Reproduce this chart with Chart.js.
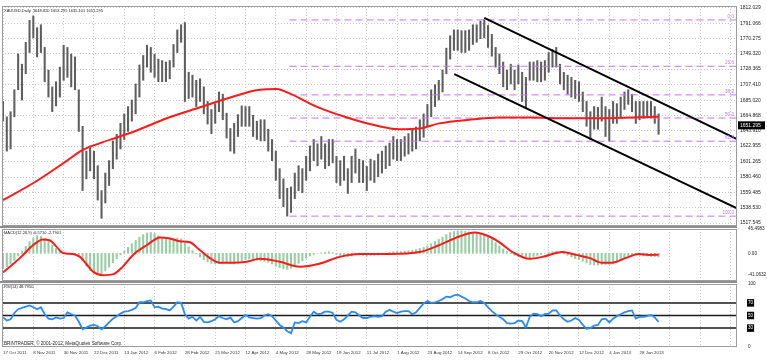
<!DOCTYPE html>
<html>
<head>
<meta charset="utf-8">
<title>XAUUSD Daily</title>
<script src="https://cdn.jsdelivr.net/npm/chart.js@4.4.1/dist/chart.umd.min.js"></script>
<style>
  body{margin:0;background:#fff;}
  #wrap{position:relative;width:767px;height:361px;overflow:hidden;background:#fff;}
  #wrap canvas{position:absolute;left:0;}
</style>
</head>
<body>
<div id="wrap">
  <canvas id="priceChart" width="767" height="232" style="top:0px"></canvas>
  <canvas id="macdChart" width="767" height="70" style="top:220px"></canvas>
  <canvas id="rsiChart" width="767" height="85" style="top:276px"></canvas>
</div>
<script>
// XAUUSD Daily, Okt 2011 - Feb 2013 — ein Balken = 2 Handelstage
const dateLabels = ["17 Oct 2011","8 Nov 2011","30 Nov 2011","22 Dec 2011","13 Jan 2012","6 Feb 2012",
  "28 Feb 2012","21 Mar 2012","12 Apr 2012","4 May 2012","28 May 2012","19 Jun 2012","11 Jul 2012",
  "1 Aug 2012","23 Aug 2012","14 Sep 2012","8 Oct 2012","29 Oct 2012","20 Nov 2012","12 Dec 2012",
  "4 Jan 2013","28 Jan 2013"];
const tickStep = 8; // Balken pro Datumslabel

const highs = [
  1684,1663,1670,1700,1749,1735,1765,1795,1801,1785,
  1789,1758,1727,1704,1711,1731,1761,1758,1749,1745,
  1700,1650,1616,1623,1616,1596,1562,1586,1603,1630,
  1639,1654,1667,1677,1686,1708,1734,1747,1761,1758,
  1749,1742,1740,1738,1740,1762,1782,1789,1792,1724,
  1720,1713,1715,1704,1684,1673,1681,1697,1694,1668,
  1647,1654,1666,1678,1677,1677,1665,1657,1659,1659,
  1646,1632,1616,1592,1578,1565,1567,1586,1596,1592,
  1609,1623,1632,1626,1636,1626,1632,1632,1609,1603,
  1609,1592,1609,1619,1605,1603,1595,1605,1603,1612,
  1616,1623,1627,1636,1632,1632,1636,1640,1646,1649,
  1659,1667,1680,1700,1707,1713,1727,1757,1774,1782,
  1782,1781,1781,1782,1789,1789,1794,1796,1788,1776,
  1758,1749,1738,1727,1735,1727,1734,1724,1717,1738,
  1738,1740,1738,1740,1751,1755,1758,1735,1724,1720,
  1717,1713,1711,1697,1684,1670,1677,1676,1690,1677,
  1673,1684,1681,1690,1697,1700,1694,1684,1684,1684,
  1684,1684,1677,1667];
const lows = [
  1657,1616,1619,1663,1700,1686,1722,1751,1771,1745,
  1751,1711,1690,1670,1678,1690,1713,1717,1704,1700,
  1643,1562,1578,1589,1578,1549,1524,1545,1569,1592,
  1605,1619,1632,1643,1657,1667,1690,1713,1731,1724,
  1717,1711,1711,1711,1715,1731,1751,1765,1684,1688,
  1690,1677,1684,1667,1653,1640,1654,1670,1659,1634,
  1616,1613,1636,1650,1650,1650,1636,1632,1630,1630,
  1616,1603,1576,1551,1540,1527,1532,1551,1562,1559,
  1576,1589,1603,1596,1605,1592,1596,1600,1573,1569,
  1576,1558,1573,1586,1573,1573,1562,1576,1573,1581,
  1586,1592,1596,1605,1603,1603,1609,1612,1616,1619,
  1630,1635,1650,1663,1677,1686,1697,1722,1742,1754,
  1754,1751,1751,1754,1762,1765,1770,1771,1758,1746,
  1731,1722,1704,1700,1708,1700,1708,1684,1674,1713,
  1713,1711,1711,1713,1724,1731,1731,1708,1700,1694,
  1690,1688,1684,1670,1650,1632,1646,1646,1657,1636,
  1630,1654,1654,1663,1673,1680,1670,1654,1659,1661,
  1662,1661,1654,1639];
const lastPrice = 1651.295;

// gleitender Durchschnitt (rot)
const maIdx  = [0, 7.9, 16.9, 20.8, 25.6, 30.8, 36.1, 43.2, 52, 59.1, 67.7, 72.2, 75.6, 82.7, 91.4, 99.3, 104.6, 109.9, 115.1, 123, 131, 139.6, 148.6, 157.3, 166, 173];
const maVals = [1549, 1572, 1603, 1617, 1627, 1636, 1646, 1661, 1676, 1688, 1700, 1701, 1695, 1677, 1661, 1650, 1646, 1647, 1654, 1659, 1662, 1662, 1661, 1661, 1662, 1663];

// Fibonacci
const fibLabels = ["0.0","23.6","38.2","50.0","61.8","100.0"];
const fibPrices = [1795.6, 1732.2, 1693.0, 1661.3, 1629.6, 1527.0];
const fibStart = 75.6;

// Trendkanal
const chanUpper = [[127.0, 1798.5], [193.7, 1632.4]];
const chanLower = [[119.1, 1721.5], [193.7, 1537.8]];

const priceTicks = ["1517.545","1538.530","1559.485","1580.460","1601.265","1622.955","1643.910",
  "1664.868","1685.020","1707.410","1728.365","1749.320","1770.275","1791.066","1812.029"];

// MACD
const macdHist = [
  -28,-25,-20,-13,-5,4,13,22,29,33,
  32,28,22,15,9,4,1,0,-1,-2,
  -6,-14,-24,-32,-38,-40,-38,-33,-26,-18,
  -10,-3,4,11,18,24,30,35,38,39,
  37,33,30,27,26,27,28,27,20,12,
  5,-1,-7,-12,-16,-19,-20,-19,-17,-17,
  -19,-20,-17,-14,-12,-11,-12,-13,-14,-15,
  -17,-20,-24,-27,-29,-30,-28,-24,-19,-14,
  -9,-5,-2,0,1,2,3,1,-2,-4,
  -4,-6,-5,-3,-3,-4,-5,-4,-4,-3,
  -2,0,2,3,3,3,4,5,6,7,
  9,11,14,18,22,26,30,35,39,41,
  42,42,41,40,39,38,37,35,31,26,
  20,14,8,3,-1,-4,-6,-8,-10,-8,
  -6,-4,-2,0,2,3,4,2,-1,-4,
  -7,-10,-12,-15,-18,-21,-22,-22,-21,-21,
  -21,-19,-16,-12,-8,-5,-3,-3,-4,-5,
  -5,-6,-6,-7];
const sigIdx  = [0, 1.8, 4.5, 7.9, 10.5, 12.4, 14.2, 15.8, 18.4, 20.3, 22.1, 23.7, 26.3, 29, 31.6, 34.3, 37.9, 41.4, 44, 46.6, 49.3, 51.9, 54.5, 57.2, 60.6, 64.3, 67.7, 73, 78.3, 83.5, 88.8, 94.1, 102, 110, 115, 120.4, 124.4, 128.3, 131, 134.4, 138.9, 142.3, 147.6, 151.2, 154.7, 158.1, 160.7, 164.4, 167.8, 170.5, 173];
const sigVals = [-36, -25, -8.6, 15, 26, 24, 11.5, 0.5, -1.3, -6.7, -21, -34, -41, -39.5, -25, -3, 15, 29.7, 27.9, 22.4, 20.6, 6, -8.6, -17.7, -17.7, -15.8, -10.4, -15.8, -25, -19.5, -6.7, -1.3, -1.3, 2.4, 15, 31.5, 38.8, 31.5, 20.6, 2.4, -10.4, -6.7, 2.4, -3, -8.6, -17.7, -17.7, -8.6, -1.3, -3, -2.8];
const macdTicks = ["-41.0632","0.00","45.4983"];

// RSI(14)
const rsiVals = [
  47,42,44,54,60,62,64,66,63,60,
  63,52,45,44,47,45,46,55,52,50,
  40,28,31,34,35,33,28,33,39,45,
  49,53,56,57,59,62,71,71,73,74,
  63,64,61,60,58,64,71,70,52,45,
  48,42,48,40,39,41,44,49,46,44,
  47,39,41,46,51,47,46,45,46,50,
  52,49,42,35,31,25,22,39,38,41,
  39,48,56,52,53,56,56,54,43,40,
  44,50,56,55,50,46,46,48,49,48,
  49,56,59,56,54,56,57,57,52,55,
  62,69,73,70,71,73,76,80,79,82,
  83,80,77,73,71,71,73,70,63,57,
  52,48,44,38,37,38,42,41,31,48,
  53,52,49,52,53,58,58,50,44,40,
  42,46,43,35,29,30,34,35,44,45,
  39,45,49,52,55,57,58,45,48,48,
  49,51,47,40];
const rsiLevels = [70, 50, 30];
const rsiTicks = [0, 30, 50, 70, 100];

// --- Darstellung ---
const FONT = '"Liberation Sans", Arial, sans-serif';
const GRID = '#c9c9c9';
const FIB = '#c673f2';
const X_MIN = -0.264, X_MAX = 193.7, AXIS_W = 30;

Chart.defaults.font.family = FONT;
Chart.defaults.animation = false;
Chart.defaults.events = [];
Chart.defaults.plugins.legend.display = false;
Chart.defaults.plugins.tooltip.enabled = false;

// Rahmen + Trennbalken zwischen den Fenstern
const frame = {
  id:'frame',
  afterDraw(chart, args, opts){
    const {ctx, chartArea:a} = chart;
    ctx.save();
    ctx.strokeStyle = '#9c9c9c'; ctx.lineWidth = 1;
    ctx.strokeRect(a.left+0.5, a.top+0.5, a.right-a.left-1, a.bottom-a.top-1);
    if(opts.sep){ ctx.fillStyle = '#8e8e8e'; ctx.fillRect(0, a.bottom, a.right, opts.sep); }
    ctx.restore();
  }
};

// kleine Beschriftungen im Fenster
const notes = {
  id:'notes',
  afterDraw(chart, args, opts){
    const {ctx, chartArea:a} = chart;
    ctx.save();
    ctx.textAlign = 'left'; ctx.textBaseline = 'middle';
    (opts.items||[]).forEach(t=>{
      ctx.font = `${t.size}px ${FONT}`;
      ctx.fillStyle = t.color || '#222';
      ctx.fillText(t.text, a.left + t.dx, t.dy >= 0 ? a.top + t.dy : a.bottom + t.dy);
    });
    ctx.restore();
  }
};

// Fibo-Beschriftung und Kursmarke
const priceMarks = {
  id:'priceMarks',
  afterDraw(chart){
    const {ctx, chartArea:a, scales:{y}} = chart;
    ctx.save();
    ctx.font = `4.6px ${FONT}`; ctx.fillStyle = FIB;
    ctx.textAlign = 'right'; ctx.textBaseline = 'bottom';
    fibLabels.forEach((t,i)=> ctx.fillText(t, a.right-3, y.getPixelForValue(fibPrices[i]) - 1));
    const py = y.getPixelForValue(lastPrice);
    ctx.fillStyle = '#000'; ctx.fillRect(a.right+1, py-4, 27, 8);
    ctx.fillStyle = '#fff'; ctx.textAlign = 'left'; ctx.textBaseline = 'middle'; ctx.font = `5px ${FONT}`;
    ctx.fillText(lastPrice.toFixed(3), a.right+3, py);
    ctx.restore();
  }
};

function xAxis(showLabels){
  return {
    type:'linear', min:X_MIN, max:X_MAX, offset:false,
    afterBuildTicks: s => { const t = []; for(let v=0; v<=X_MAX; v+=tickStep) t.push({value:v}); s.ticks = t; },
    afterFit: s => { s.height = showLabels ? 14 : 0; s.paddingLeft = 0; s.paddingRight = 0; },
    grid:{color:GRID, drawTicks:false, offset:false},
    border:{display:false, dash:[1,2]},
    ticks:{display:showLabels, autoSkip:false, maxRotation:0, minRotation:0, align:'start', padding:3,
      color:'#333', font:{size:4.4}, callback: v => dateLabels[v/tickStep] || ''}
  };
}

// Kursfenster
new Chart(document.getElementById('priceChart'), {
  type:'line',
  data:{datasets:[
    {label:'Kanal oben', data:chanUpper.map(p=>({x:p[0], y:p[1]})), borderColor:'#000', borderWidth:2, pointRadius:0, order:1},
    {label:'Kanal unten', data:chanLower.map(p=>({x:p[0], y:p[1]})), borderColor:'#000', borderWidth:2, pointRadius:0, order:1},
    {label:'MA', data:maIdx.map((x,i)=>({x, y:maVals[i]})), borderColor:'#ff1a1a', borderWidth:2, pointRadius:0, cubicInterpolationMode:'monotone', order:2},
    ...fibPrices.map((p,i)=>({label:'Fibo '+fibLabels[i], data:[{x:fibStart, y:p},{x:X_MAX, y:p}],
      borderColor:FIB, borderWidth:1, borderDash:[7,4], pointRadius:0, order:3})),
    {type:'bar', label:'XAUUSD', data:highs.map((h,i)=>({x:i, y:[lows[i], h]})), backgroundColor:'#5e5e5e',
      barThickness:1.4, order:4}
  ]},
  options:{
    responsive:false,
    layout:{padding:{left:2, top:3, right:0, bottom:6}},
    scales:{
      x: xAxis(false),
      y: {type:'linear', position:'right', min:1513.5, max:1814.7,
        afterBuildTicks: s => { s.ticks = priceTicks.map(t=>({value:parseFloat(t)})); },
        afterFit: s => { s.width = AXIS_W; },
        grid:{color:GRID, drawTicks:false}, border:{display:false, dash:[1,2]},
        ticks:{autoSkip:false, padding:3, color:'#222', font:{size:5}, callback:(v,i)=>priceTicks[i]}}
    },
    plugins:{frame:{sep:2}, notes:{items:[{text:'XAUUSD,Daily  1648.820 1653.295 1635.101 1651.295', dx:2, dy:5, size:4}]}}
  },
  plugins:[frame, notes, priceMarks]
});

// MACD-Fenster
new Chart(document.getElementById('macdChart'), {
  type:'line',
  data:{datasets:[
    {label:'Signal', data:sigIdx.map((x,i)=>({x, y:sigVals[i]})), borderColor:'#ff1a1a', borderWidth:2,
      pointRadius:0, cubicInterpolationMode:'monotone', order:1},
    {type:'bar', label:'MACD', data:macdHist.map((v,i)=>({x:i, y:v})), backgroundColor:'#98cca3', barThickness:1.4, order:2}
  ]},
  options:{
    responsive:false,
    layout:{padding:{left:2, top:9, right:0, bottom:9}},
    scales:{
      x: xAxis(false),
      y: {type:'linear', position:'right', min:-51.9, max:45.5,
        afterBuildTicks: s => { s.ticks = macdTicks.map(t=>({value:parseFloat(t)})); },
        afterFit: s => { s.width = AXIS_W; },
        grid:{display:false}, border:{display:false},
        ticks:{autoSkip:false, padding:3, color:'#222', font:{size:4.6}, callback:(v,i)=>macdTicks[i]}}
    },
    plugins:{frame:{sep:2}, notes:{items:[{text:'MACD(12,26,9) -6.5710 -2.7901', dx:2, dy:4, size:4}]}}
  },
  plugins:[frame, notes]
});

// RSI-Fenster
new Chart(document.getElementById('rsiChart'), {
  type:'line',
  data:{datasets:[
    {label:'RSI(14)', data:rsiVals.map((v,i)=>({x:i, y:v})), borderColor:'#2a8bf2', borderWidth:1.8, pointRadius:0, order:1},
    ...rsiLevels.map(l=>({label:'Level '+l, data:[{x:X_MIN, y:l},{x:X_MAX, y:l}], borderColor:'#1a1a1a', borderWidth:1.5, pointRadius:0, order:2}))
  ]},
  options:{
    responsive:false,
    layout:{padding:{left:2, top:8, right:0, bottom:0}},
    scales:{
      x: xAxis(true),
      y: {type:'linear', position:'right', min:0, max:100,
        afterBuildTicks: s => { s.ticks = rsiTicks.map(v=>({value:v})); },
        afterFit: s => { s.width = AXIS_W; },
        grid:{display:false}, border:{display:false},
        ticks:{autoSkip:false, padding:3, font:{size:4.6},
          color: c => rsiLevels.includes(c.tick.value) ? '#fff' : '#222',
          showLabelBackdrop: c => rsiLevels.includes(c.tick.value),
          backdropColor:'#000', backdropPadding:1}}
    },
    plugins:{notes:{items:[
      {text:'RSI(14) 48.7950', dx:2, dy:3, size:4},
      {text:'BRiNTRADER, \u00a9 2001-2012, MetaQuotes Software Corp.', dx:2, dy:-3, size:4.6}
    ]}}
  },
  plugins:[frame, notes]
});
</script>
</body>
</html>
